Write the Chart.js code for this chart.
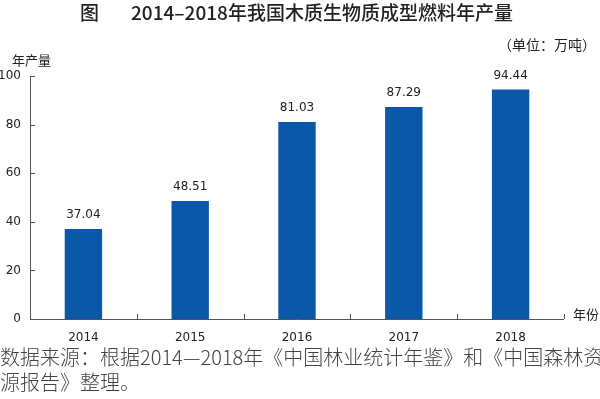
<!DOCTYPE html>
<html><head><meta charset="utf-8">
<script src="https://cdn.jsdelivr.net/npm/chart.js@4.4.0/dist/chart.umd.min.js"></script>
<style>
html,body{margin:0;padding:0;background:#fff;width:600px;height:399px;overflow:hidden;font-family:"Noto Sans CJK SC","Noto Sans",sans-serif;}
#wrap{position:relative;width:600px;height:399px;}
canvas{position:absolute;left:0;top:0;}
.t{position:absolute;white-space:nowrap;color:#222;line-height:1;}
</style></head><body>
<div id="wrap">
<canvas id="c" width="600" height="399"></canvas>
<div class="t" id="title" style="left:80px;top:2px;font-size:19px;font-weight:500;color:#222;">图<span style="display:inline-block;width:32px"></span>2014–2018年我国木质生物质成型燃料年产量</div>
<div class="t" style="left:498px;top:37px;font-size:14px;">（单位：万吨）</div>
<div class="t" style="left:12px;top:53px;font-size:13px;">年产量</div>
<div class="t" style="left:573px;top:307px;font-size:13px;">年份</div>
<div class="t" style="left:0px;top:347px;font-size:20px;color:#444;font-weight:300;">数据来源：根据2014—2018年《中国林业统计年鉴》和《中国森林资</div>
<div class="t" style="left:0px;top:372px;font-size:20px;color:#444;font-weight:300;">源报告》整理。</div>
</div>
<script>
const categories = ["2014","2015","2016","2017","2018"];
const production = [37.04, 48.51, 81.03, 87.29, 94.44];
const yTicks = [0, 20, 40, 60, 80, 100];

const axisColor = "#555";
const tickMarks = {
  id: "tickMarks",
  afterDraw(chart) {
    const ctx = chart.ctx, x = chart.scales.x, y = chart.scales.y;
    ctx.save();
    ctx.strokeStyle = axisColor; ctx.lineWidth = 1;
    ctx.beginPath();
    ctx.moveTo(x.left + 0.5, y.getPixelForValue(100)); ctx.lineTo(x.left + 0.5, y.bottom + 0.5);
    ctx.lineTo(x.right, y.bottom + 0.5);
    yTicks.forEach(v => { const p = Math.round(y.getPixelForValue(v)) + 0.5; ctx.moveTo(x.left, p); ctx.lineTo(x.left + 5, p); });
    for (let i = 0; i < categories.length; i++) {
      const p = Math.round(x.getPixelForValue(i) + (x.getPixelForValue(1) - x.getPixelForValue(0)) / 2) + 0.5;
      ctx.moveTo(p, y.bottom); ctx.lineTo(p, y.bottom - 5);
    }
    ctx.stroke();
    const meta = chart.getDatasetMeta(0);
    ctx.fillStyle = "#222"; ctx.font = "12px 'DejaVu Sans', sans-serif"; ctx.textAlign = "center"; ctx.textBaseline = "bottom";
    meta.data.forEach((bar, i) => {
      ctx.fillText(production[i].toFixed(2), bar.x, bar.y - 8);
    });
    ctx.restore();
  }
};

new Chart(document.getElementById("c"), {
  type: "bar",
  data: { labels: categories, datasets: [{ data: production, backgroundColor: "#0b58a8", categoryPercentage: 1, barPercentage: 0.35 }] },
  options: {
    responsive: false, animation: false,
    layout: { padding: { left: 0, right: 36, top: 76, bottom: 0 } },
    plugins: { legend: { display: false }, tooltip: { enabled: false }, title: { display: false } },
    scales: {
      x: {
        grid: { display: false, drawTicks: false }, border: { display: false },
        ticks: { color: "#222", font: { size: 12, family: "'DejaVu Sans', sans-serif" }, padding: 12 },
        afterFit(a) { a.height = 80; }
      },
      y: {
        min: 0, max: 100,
        grid: { display: false, drawTicks: false }, border: { display: false },
        ticks: { stepSize: 20, color: "#222", font: { size: 12, family: "'DejaVu Sans', sans-serif" }, padding: 9 },
        afterFit(a) { a.width = 30; }
      }
    }
  },
  plugins: [tickMarks]
});
</script>
</body></html>
